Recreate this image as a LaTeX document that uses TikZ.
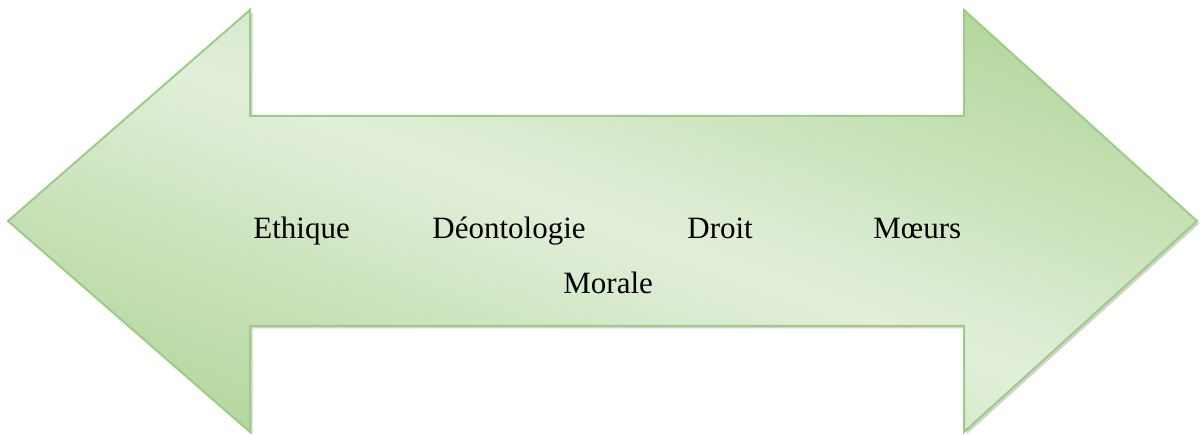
\documentclass[tikz,border=0pt]{standalone}
\usepackage{fontspec}
\setmainfont{Liberation Serif}
\definecolor{arrowdark}{HTML}{B0D599}
\definecolor{arrowlight}{HTML}{E2EFDA}
\definecolor{arrowedge}{HTML}{9DCC85}
\tikzset{
  word/.style={inner sep=0pt, anchor=base west, font=\fontsize{15.5}{18}\selectfont, text=black},
}
\begin{document}
\begin{tikzpicture}[x=0.5pt, y=0.5pt]
\useasboundingbox (0,0) rectangle (1200,434);
\def\arrowpath{(8,213) -- (250,424) -- (250,318) -- (964,318) -- (964,424) -- (1197,213) -- (964,2) -- (964,108) -- (250,108) -- (250,2) -- cycle}
% shadow
\fill [black!35, opacity=0.5, shift={(2.5,-2.5)}] \arrowpath;
% gradient body
\begin{scope}
\clip \arrowpath;
\shade [transform canvas={rotate around={-20:(602,213)}}, bottom color=arrowdark, top color=arrowdark, middle color=arrowlight] (-98,-137) rectangle (1302,563);
\end{scope}
\draw [arrowedge, line width=1pt, line join=miter] \arrowpath;
% labels
\node (ethique) [word] at (253,195) {Ethique};
\node (deontologie) [word] at (432,195) {Déontologie};
\node (droit) [word] at (687,195) {Droit};
\node (moeurs) [word] at (873,195) {Mœurs};
\node (morale) [word] at (563,140) {Morale};
\end{tikzpicture}
\end{document}
